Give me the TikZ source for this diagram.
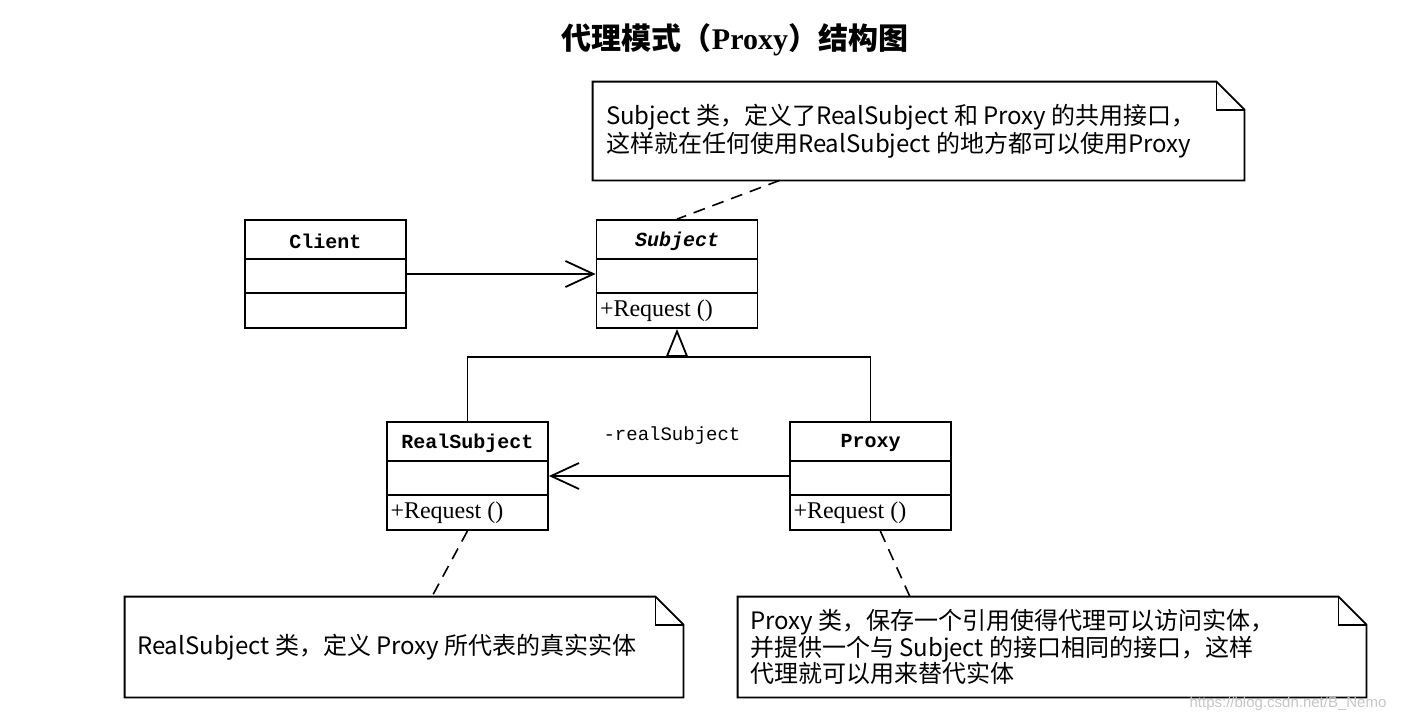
\documentclass[tikz,border=0pt]{standalone}
\usepackage{fontspec}
\setmainfont{Liberation Serif}
\newfontfamily\cjk{Noto Sans CJK SC}
\newfontfamily\classfont{Liberation Mono}
\newfontfamily\wmfont{Liberation Sans}
\usetikzlibrary{arrows.meta,calc,positioning}

\tikzset{
  classbox/.style={draw, line width=0.9pt, minimum width=80.5pt, minimum height=54pt, inner sep=0pt},
  classname/.style={font=\classfont\bfseries\fontsize{10}{12}\selectfont, inner sep=0pt},
  opname/.style={font=\fontsize{12}{14}\selectfont, anchor=west, inner sep=0pt},
  notebox/.style={draw=none, inner sep=0pt},
  notetext/.style={font=\cjk\fontsize{12}{13}\selectfont, align=left, anchor=west, inner sep=0pt},
  noteline/.style={line width=0.9pt},
  anchorline/.style={dash pattern=on 6pt off 4pt, line width=0.8pt},
  assoc/.style={line width=0.9pt, -{Straight Barb[length=14pt,width=13pt]}},
  inherit/.style={line width=0.9pt, -{Triangle[open,length=14pt,width=11pt]}},
}

\begin{document}
\begin{tikzpicture}[x=0.5pt, y=-0.5pt]
  \useasboundingbox (0,0) rectangle (1402,718);

  \node[font=\fontsize{15}{18}\selectfont\bfseries] (title) at (735,40)
    {{\cjk\bfseries 代理模式（}Proxy{\cjk\bfseries ）结构图}};

  % classes
  \node[classbox] (client) at (325.5,274) {};
  \node[classbox] (subject) at (677,274) {};
  \node[classbox] (realsubject) at (467.5,476) {};
  \node[classbox] (proxy) at (870.5,476) {};
  \foreach \c in {client,subject,realsubject,proxy} {
    \draw[line width=0.9pt] ([yshift=-19.75pt]\c.north west) -- ([yshift=-19.75pt]\c.north east);
    \draw[line width=0.9pt] ([yshift=-36.75pt]\c.north west) -- ([yshift=-36.75pt]\c.north east);
  }
  \node[classname] (clientname) at ([yshift=-11pt]client.north) {Client};
  \node[classname, font=\classfont\bfseries\itshape\fontsize{10}{12}\selectfont] (subjectname) at ([yshift=-11pt]subject.north) {Subject};
  \node[classname] (realsubjectname) at ([yshift=-11pt]realsubject.north) {RealSubject};
  \node[classname] (proxyname) at ([yshift=-11pt]proxy.north) {Proxy};
  \node[opname] (subjectop) at ([xshift=2pt,yshift=-46pt]subject.north west) {+Request ()};
  \node[opname] (realsubjectop) at ([xshift=2pt,yshift=-46pt]realsubject.north west) {+Request ()};
  \node[opname] (proxyop) at ([xshift=2pt,yshift=-46pt]proxy.north west) {+Request ()};

  % relations
  \draw[assoc] (client.east) -- (subject.west);
  \draw[assoc] (proxy.west) -- (realsubject.east)
    node[midway, above=12pt, xshift=1.5pt, font=\classfont\fontsize{9.5}{11}\selectfont] (reallabel) {-realSubject};
  \coordinate (join) at (677,357);
  \draw[line width=0.9pt] (realsubject.north) |- (join) -| (proxy.north);
  \draw[inherit] (join) -- (subject.south);

  % notes
  \node[notebox, minimum width=325.5pt, minimum height=49pt] (subjectnote) at (918.5,131) {};
  \node[notebox, minimum width=279pt, minimum height=50pt] (realnote) at (404,647) {};
  \node[notebox, minimum width=314pt, minimum height=50pt] (proxynote) at (1052,647) {};
  \foreach \n in {subjectnote,realnote,proxynote} {
    \draw[noteline] (\n.south west) -- (\n.north west) -- ([xshift=-14pt]\n.north east)
      -- ([yshift=-14pt]\n.north east) -- (\n.south east) -- cycle;
    \draw[noteline] ([xshift=-14pt]\n.north east) -- ([xshift=-14pt,yshift=-14pt]\n.north east)
      -- ([yshift=-14pt]\n.north east);
  }
  \node[notetext] (subjecttext) at ([xshift=6.5pt]subjectnote.west)
    {Subject 类，定义了RealSubject 和 Proxy 的共用接口，\\这样就在任何使用RealSubject 的地方都可以使用Proxy};
  \node[notetext] (realtext) at ([xshift=6pt]realnote.west)
    {RealSubject 类，定义 Proxy 所代表的真实实体};
  \node[notetext, font=\cjk\fontsize{12}{13.25}\selectfont] (proxytext) at ([xshift=6pt]proxynote.west)
    {Proxy 类，保存一个引用使得代理可以访问实体，\\并提供一个与 Subject 的接口相同的接口，这样\\代理就可以用来替代实体};

  \draw[anchorline] ($(subjectnote.south west)!0.287!(subjectnote.south east)$) -- (subject.north);
  \draw[anchorline] (realsubject.south) -- ($(realnote.north west)!0.55!(realnote.north east)$);
  \draw[anchorline] ($(proxy.south west)!0.56!(proxy.south east)$) -- ($(proxynote.north west)!0.274!(proxynote.north east)$);

  \node[font=\wmfont\fontsize{7.5}{9}\selectfont, text=gray!45] (watermark) at (1288,704) {https://blog.csdn.net/B\_Nemo};
\end{tikzpicture}
\end{document}
